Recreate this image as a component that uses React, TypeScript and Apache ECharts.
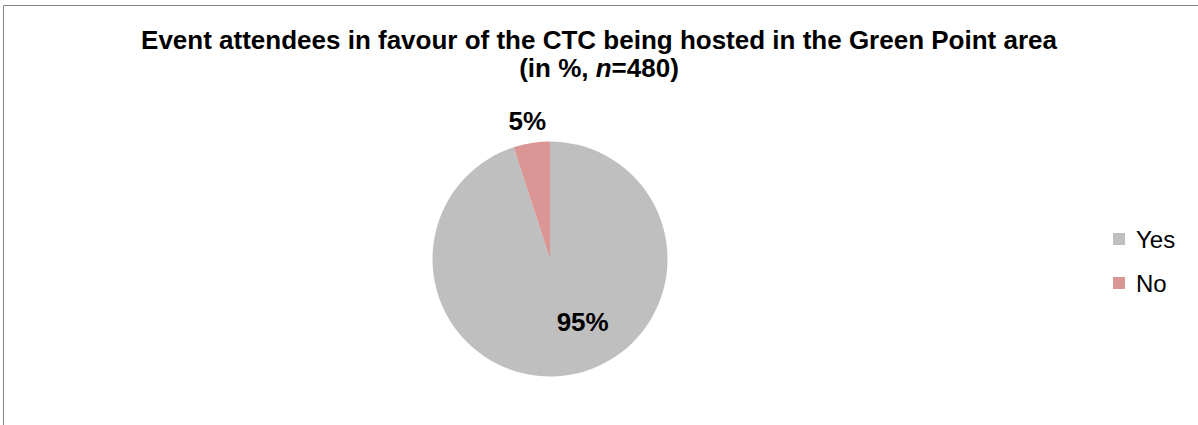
import React, { useEffect, useRef } from "react";
import * as echarts from "echarts";

const categories = ["Yes", "No"];
const values = [95, 5];
const colors = ["#BFBFBF", "#D99694"];
const labelOffsets: [number, number][] = [[23, 2], [-13, -77]];

export default function App() {
  const ref = useRef<HTMLDivElement>(null);
  useEffect(() => {
    if (!ref.current) return;
    const chart = echarts.init(ref.current, undefined, { renderer: "svg" });
    const font = "'Liberation Sans', Arial, sans-serif";
    chart.setOption({
      animation: false,
      backgroundColor: "#ffffff",
      title: {
        text: "Event attendees in favour of the CTC being hosted in the Green Point area\n(in %, {i|n}=480)",
        left: "center",
        top: 26,
        padding: [0, 0, 0, 8],
        textStyle: {
          fontFamily: font,
          fontSize: 26,
          fontWeight: "bold",
          color: "#000",
          lineHeight: 28,
          rich: {
            i: { fontFamily: font, fontSize: 26, fontWeight: "bold", fontStyle: "italic", color: "#000", lineHeight: 28 },
          },
        },
      },
      legend: {
        orient: "vertical",
        left: 1108,
        top: 222,
        itemWidth: 12,
        itemHeight: 12,
        itemGap: 20,
        icon: "rect",
        data: categories,
        textStyle: { fontFamily: font, fontSize: 24, color: "#000", padding: [0, 0, 0, 6] },
      },
      graphic: [
        {
          type: "rect",
          shape: { x: 3.5, y: 5.5, width: 1210, height: 440 },
          style: { fill: "none", stroke: "#868686", lineWidth: 1 },
          silent: true,
        },
      ],
      series: [
        {
          type: "pie",
          center: [550, 259],
          radius: 117.5,
          startAngle: 90,
          clockwise: true,
          avoidLabelOverlap: false,
          emphasis: { disabled: true },
          labelLine: { show: false },
          itemStyle: { borderWidth: 0 },
          label: {
            show: true,
            position: "inside",
            formatter: "{c}%",
            fontFamily: font,
            fontSize: 26,
            fontWeight: "bold",
            color: "#000",
          },
          data: categories.map((name, i) => ({
            name,
            value: values[i],
            itemStyle: { color: colors[i] },
            label: { offset: labelOffsets[i] },
          })),
        },
      ],
    });
    return () => chart.dispose();
  }, []);
  return (
    <div
      ref={ref}
      style={{ position: "fixed", left: 0, top: 0, width: 1198, height: 425, background: "#fff" }}
    />
  );
}
